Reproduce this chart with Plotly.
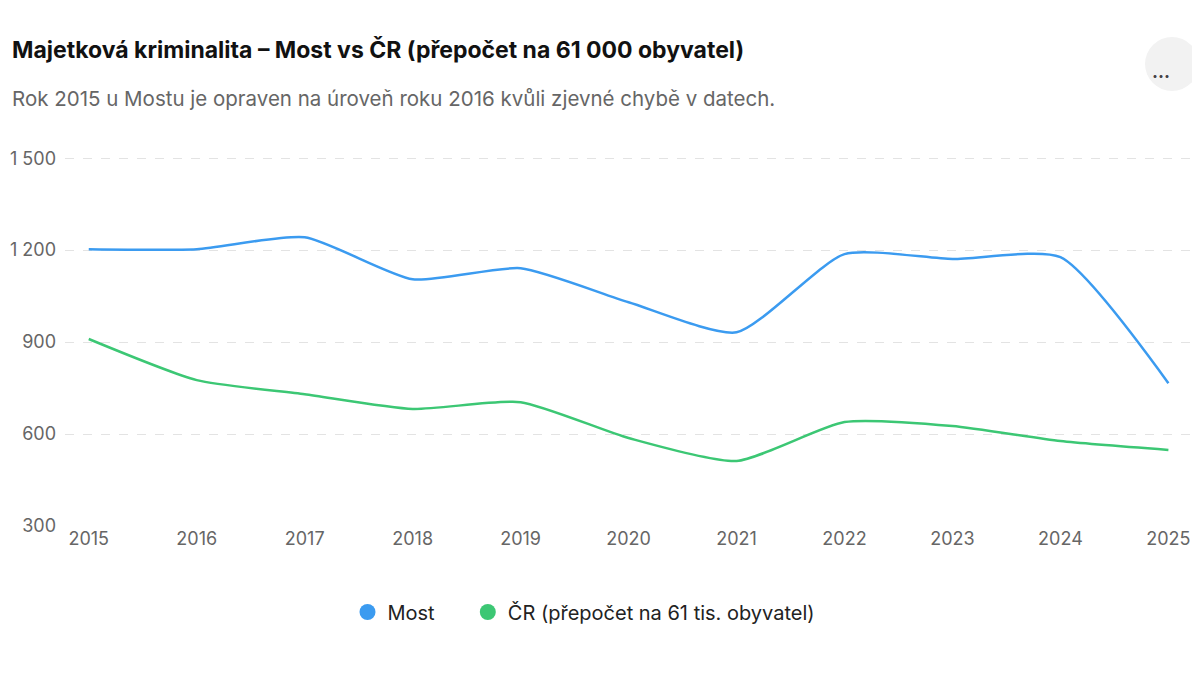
import plotly.graph_objects as go

years = list(range(2015, 2026))
most = [1203, 1203, 1242, 1105, 1141, 1030, 932, 1187, 1171, 1177, 766]
cr = [910, 776, 730, 682, 704, 587, 512, 639, 626, 577, 548]
ytick_vals = [300, 600, 900, 1200, 1500]
ytick_text = ["300", "600", "900", "1 200", "1 500"]

BLUE, GREEN = "#3b9bf0", "#3cc774"
fig = go.Figure()
fig.add_trace(go.Scatter(x=years, y=most, name="Most", mode="lines", showlegend=False,
                         line=dict(color=BLUE, width=2.5, shape="spline", smoothing=0.6)))
fig.add_trace(go.Scatter(x=years, y=cr, name="ČR", mode="lines", showlegend=False,
                         line=dict(color=GREEN, width=2.5, shape="spline", smoothing=0.6)))
fig.add_trace(go.Scatter(x=[None], y=[None], name="Most     ", mode="markers",
                         marker=dict(color=BLUE, size=17)))
fig.add_trace(go.Scatter(x=[None], y=[None], name="ČR (přepočet na 61 tis. obyvatel)",
                         mode="markers", marker=dict(color=GREEN, size=17)))

O = 8
W, H = 1192, 675 - O
pl, pt = 65 - O, 149 - O
pr, pb = 10, 149
pw, ph = W - pl - pr, H - pt - pb
def px(x): return (x - O - pl) / pw
def py(y): return (pt + ph - (y - O)) / ph

fig.update_layout(
    width=W, height=H, plot_bgcolor="white", paper_bgcolor="white",
    font=dict(family="Inter, Roboto, sans-serif", color="#555", size=18),
    margin=dict(l=pl, r=pr, t=pt, b=pb, autoexpand=False),
    legend=dict(orientation="h", x=px(584), xanchor="center", y=py(612), yanchor="middle",
                font=dict(size=20, color="#222"), itemwidth=30),
    xaxis=dict(range=[2014.78, 2025.2], tickvals=years, showgrid=False, zeroline=False,
               showline=False, tickfont=dict(size=18, color="#666"), ticks="", automargin=False),
    yaxis=dict(range=[300, 1530], tickvals=ytick_vals, ticktext=ytick_text, showgrid=True,
               gridcolor="#e3e3e3", griddash="dash", zeroline=False, automargin=False,
               tickfont=dict(size=18, color="#666"), ticklabelstandoff=8),
    annotations=[
        dict(text="<b>Majetková kriminalita – Most vs ČR (přepočet na 61 000 obyvatel)</b>",
             x=px(10), y=py(50), xref="paper", yref="paper", showarrow=False, xanchor="left",
             yanchor="middle", font=dict(size=23, color="#111")),
        dict(text="Rok 2015 u Mostu je opraven na úroveň roku 2016 kvůli zjevné chybě v datech.",
             x=px(10), y=py(98), xref="paper", yref="paper", showarrow=False, xanchor="left",
             yanchor="middle", font=dict(size=20.5, color="#666")),
        dict(text="<b>···</b>", x=px(1172), y=py(64), xref="paper", yref="paper",
             showarrow=False, font=dict(size=18, color="#444")),
    ],
)
fig.add_shape(type="circle", xref="paper", yref="paper",
              x0=px(1145), x1=px(1199), y0=py(37), y1=py(91),
              fillcolor="#f2f2f2", line=dict(width=0), layer="below")
fig.write_html("out.html")
